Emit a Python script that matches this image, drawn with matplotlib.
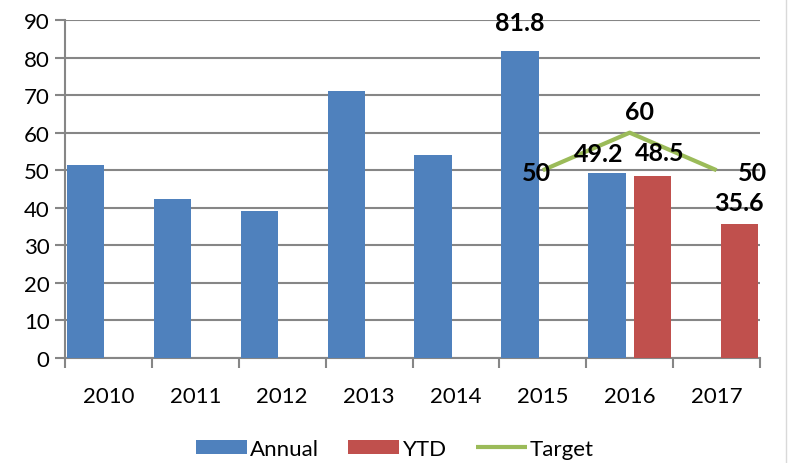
import matplotlib.pyplot as plt
import numpy as np
from matplotlib.lines import Line2D

# chart data
years = ['2010', '2011', '2012', '2013', '2014', '2015', '2016', '2017']
annual = [51.4, 42.3, 39.2, 71.0, 54.0, 81.8, 49.2, np.nan]
ytd = [np.nan, np.nan, np.nan, np.nan, np.nan, np.nan, 48.5, 35.6]
target_years = ['2015', '2016', '2017']
target = [50, 60, 50]

BLUE = '#4F81BD'
RED = '#C0504D'
GREEN = '#9BBB59'
GRID = '#868686'


def main():
    plt.rcParams['font.family'] = ['Lato', 'DejaVu Sans']

    fig = plt.figure(figsize=(7.89, 4.64), dpi=100)
    ax = fig.add_axes([65 / 789, 1 - 359 / 464, (760 - 65) / 789, (359 - 21) / 464])

    x = np.arange(len(years))
    width = 0.43
    off = 0.262

    b1 = ax.bar(x - off, annual, width, color=BLUE, label='Annual', zorder=3)
    b2 = ax.bar(x + off, ytd, width, color=RED, label='YTD', zorder=3)

    tx = [years.index(y) for y in target_years]
    ln, = ax.plot(tx, target, color=GREEN, lw=3, label='Target', zorder=4,
                  solid_capstyle='butt')

    # axes and grid
    ax.set_xlim(-0.5, len(years) - 0.5)
    ax.set_ylim(0, 90)
    ax.set_yticks(np.arange(0, 91, 10))
    ax.yaxis.grid(True, color=GRID, lw=1.5, zorder=0)
    ax.set_axisbelow(True)
    for s in ['top', 'right']:
        ax.spines[s].set_visible(False)
    for s in ['left', 'bottom']:
        ax.spines[s].set_color(GRID)
        ax.spines[s].set_linewidth(1.5)

    ax.set_xticks(x)
    ax.set_xticklabels(years)
    ax.set_xticks(np.arange(-0.5, len(years)), minor=True)
    ax.tick_params(axis='x', which='major', length=0, pad=20, labelsize=16)
    ax.tick_params(axis='x', which='minor', length=7, width=1.5, color=GRID)
    ax.tick_params(axis='y', length=7, width=1.5, color=GRID, labelsize=16, pad=4)

    # data labels (pixel offsets from data point)
    lab = dict(textcoords='offset pixels', ha='center', va='center',
               fontsize=18, fontweight='bold', zorder=5)
    bar_labels = [(5 - off, annual[5], '81.8', 0, 28),
                  (6 - off, annual[6], '49.2', -8, 20),
                  (6 + off, ytd[6], '48.5', 7, 23),
                  (7 + off, ytd[7], '35.6', 0, 22)]
    for bx, by, t, dx, dy in bar_labels:
        ax.annotate(t, (bx, by), xytext=(dx, dy), **lab)

    tgt_offsets = [(-6, -2), (10, 21), (36, -2)]
    for xi, v, (dx, dy) in zip(tx, target, tgt_offsets):
        ax.annotate(f'{v:g}', (xi, v), xytext=(dx, dy), **lab)

    fig.legend([b1, b2, ln], ['Annual', 'YTD', 'Target'],
               loc='center', bbox_to_anchor=(395 / 789, 1 - 450 / 464),
               ncol=3, frameon=False, fontsize=16, handlelength=2.3,
               handleheight=0.63, handletextpad=0.15, columnspacing=1.3,
               borderpad=0)

    # outer chart border on the right
    fig.add_artist(Line2D([786 / 789, 786 / 789], [0, 1], color='#D9D9D9', lw=1))

    fig.savefig('out.png', dpi=100)


if __name__ == "__main__":
    main()
